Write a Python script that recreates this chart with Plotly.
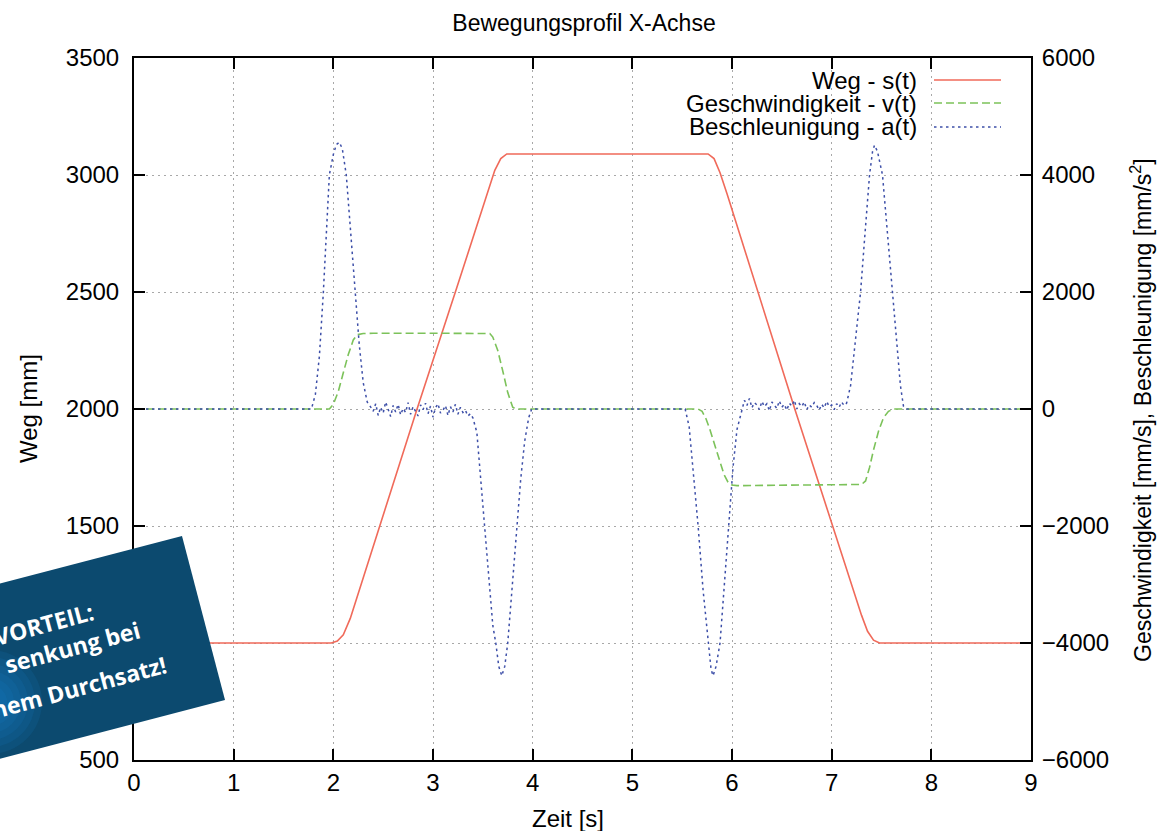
import plotly.graph_objects as go

# ---------------- data ----------------
# Weg s(t) [mm]
t_s = [0.0, 1.98, 2.04, 2.10, 2.17, 2.84, 3.24, 3.56, 3.62, 3.68, 3.74,
       5.76, 5.82, 5.88, 5.95, 6.63, 7.01, 7.30, 7.36, 7.42, 7.48, 9.0]
s_val = [1000, 1000, 1008, 1035, 1105, 2000, 2520, 2940, 3020, 3070, 3090,
         3090, 3070, 3010, 2920, 2000, 1500, 1118, 1050, 1012, 1000, 1000]

# Geschwindigkeit v(t) [mm/s]
t_v = [0.0, 1.96, 2.00, 2.05, 2.10, 2.15, 2.20, 2.24, 2.30, 2.40, 3.00, 3.57,
       3.60, 3.65, 3.70, 3.75, 3.80, 3.83, 5.00, 5.66, 5.70, 5.74, 5.78, 5.83,
       5.88, 5.92, 5.96, 6.00, 6.05, 6.60, 7.30, 7.34, 7.38, 7.42, 7.47, 7.52,
       7.57, 7.62, 9.0]
v_val = [0, 0, 80, 300, 620, 930, 1180, 1270, 1290, 1295, 1295, 1290,
         1230, 1000, 650, 280, 30, 0, 0, 0, -40, -170, -360, -640,
         -920, -1120, -1250, -1300, -1310, -1300, -1290, -1230, -1000, -700, -380, -150,
         -40, 0, 0]

# Beschleunigung a(t) [mm/s^2], segment by segment
t_a_rest1 = [0.0, 0.5, 1.0, 1.5, 1.78]
a_rest1 = [0, 0, 0, 0, 0]

t_a_peak1 = [1.82, 1.86, 1.90, 1.93, 1.96, 2.00, 2.03, 2.06, 2.09, 2.13,
             2.17, 2.22, 2.26, 2.30, 2.34, 2.38]
a_peak1 = [250, 900, 2000, 3000, 4000, 4350, 4520, 4560, 4450, 4000,
           3100, 2000, 1100, 450, 120, 20]

t_a_noise1 = [2.400, 2.425, 2.450, 2.475, 2.500, 2.525, 2.550, 2.575, 2.600, 2.625,
              2.650, 2.675, 2.700, 2.725, 2.750, 2.775, 2.800, 2.825, 2.850, 2.875,
              2.900, 2.925, 2.950, 2.975, 3.000, 3.025, 3.050, 3.075, 3.100, 3.125,
              3.150, 3.175, 3.200, 3.225, 3.250, 3.275, 3.300, 3.325, 3.350, 3.375]
a_noise1 = [-40, 90, -110, 30, -70, 120, -20, -130, 60, -50,
            80, -100, 10, -60, 110, -90, 40, -30, -120, 70,
            -10, 100, -80, 50, -140, 20, 90, -70, -20, 60,
            -110, 40, -50, 80, -90, 30, -60, -20, -120, -80]

t_a_peak2 = [3.40, 3.44, 3.48, 3.52, 3.56, 3.60, 3.63, 3.66, 3.69, 3.72,
             3.75, 3.79, 3.84, 3.88, 3.92, 3.96, 3.99]
a_peak2 = [-150, -400, -1200, -2000, -2900, -3700, -4000, -4400, -4560, -4400,
           -4000, -3100, -2000, -1200, -550, -150, 0]

t_a_rest2 = [4.5, 5.0, 5.53]
a_rest2 = [0, 0, 0]

t_a_peak3 = [5.57, 5.62, 5.66, 5.71, 5.76, 5.79, 5.81, 5.84, 5.88, 5.92,
             5.97, 6.01, 6.05, 6.09, 6.11]
a_peak3 = [-300, -1200, -2000, -3100, -4000, -4450, -4560, -4400, -4000, -3100,
           -2000, -1000, -350, -80, 50]

t_a_noise2 = [6.125, 6.150, 6.175, 6.200, 6.225, 6.250, 6.275, 6.300, 6.325, 6.350,
              6.375, 6.400, 6.425, 6.450, 6.475, 6.500, 6.525, 6.550, 6.575, 6.600,
              6.625, 6.650, 6.675, 6.700, 6.725, 6.750, 6.775, 6.800, 6.825, 6.850,
              6.875, 6.900, 6.925, 6.950, 6.975, 7.000, 7.025, 7.050, 7.075, 7.100,
              7.125]
a_noise2 = [150, 60, 180, 20, 110, 70, -10, 130, 40, 90,
            -30, 120, 60, 10, 140, 30, 80, -20, 100, 50,
            150, 0, 90, 40, 120, -10, 70, 30, 110, 60,
            -20, 80, 20, 130, 40, 70, -10, 90, 30, 120,
            60]

t_a_peak4 = [7.15, 7.19, 7.23, 7.29, 7.33, 7.38, 7.41, 7.43, 7.46, 7.51,
             7.56, 7.61, 7.65, 7.69, 7.72, 7.75]
a_peak4 = [100, 400, 1000, 2000, 2900, 4000, 4400, 4510, 4400, 4000,
           3000, 2000, 1100, 400, 50, 0]

t_a_rest3 = [8.0, 8.5, 9.0]
a_rest3 = [0, 0, 0]

t_a = (t_a_rest1 + t_a_peak1 + t_a_noise1 + t_a_peak2 + t_a_rest2 +
       t_a_peak3 + t_a_noise2 + t_a_peak4 + t_a_rest3)
a_val = (a_rest1 + a_peak1 + a_noise1 + a_peak2 + a_rest2 +
         a_peak3 + a_noise2 + a_peak4 + a_rest3)

# axis ticks
x_ticks = [0, 1, 2, 3, 4, 5, 6, 7, 8, 9]
y_left_ticks = [500, 1000, 1500, 2000, 2500, 3000, 3500]
y_right_ticks = [-6000, -4000, -2000, 0, 2000, 4000, 6000]

legend_labels = ["Weg - s(t)", "Geschwindigkeit - v(t)", "Beschleunigung - a(t)"]

# ---------------- styling ----------------
FONT = "Liberation Sans, Arial, sans-serif"
FS = 24
RED = "#f06a5a"
GREEN = "#7cc25a"
BLUE = "#3d4fa8"
GRID = "#a8a8a8"

W, H = 1163, 831
ML, MT = 134, 58
PW, PH = 897, 702
MR, MB = W - ML - PW, H - MT - PH


def px(xp):
    """page x pixel -> paper fraction"""
    return (xp - ML) / PW


def py(yp):
    """page y pixel -> paper fraction"""
    return (MT + PH - yp) / PH


fig = go.Figure()
fig.add_trace(go.Scatter(x=t_s, y=s_val, mode="lines", name=legend_labels[0],
                         line=dict(color=RED, width=1.6), yaxis="y"))
fig.add_trace(go.Scatter(x=t_v, y=v_val, mode="lines", name=legend_labels[1],
                         line=dict(color=GREEN, width=1.6, dash="8px,4px"), yaxis="y2"))
fig.add_trace(go.Scatter(x=t_a, y=a_val, mode="lines", name=legend_labels[2],
                         line=dict(color=BLUE, width=1.5, dash="2.5px,3.5px"), yaxis="y2"))

axis_common = dict(showline=True, linecolor="black", linewidth=2,
                   ticks="inside", ticklen=11, tickwidth=1.6, tickcolor="black",
                   tickfont=dict(family=FONT, size=FS, color="black"),
                   zeroline=False)

fig.update_layout(
    width=W, height=H,
    margin=dict(l=ML, r=MR, t=MT, b=MB, pad=0),
    paper_bgcolor="white", plot_bgcolor="white",
    showlegend=False,
    font=dict(family=FONT, size=FS, color="black"),
    title=dict(text="Bewegungsprofil X-Achse", x=584 / W, xanchor="center",
               xref="container", y=1 - 23 / H, yanchor="middle", yref="container",
               font=dict(family=FONT, size=23, color="black")),
    xaxis=dict(range=[0, 9], tickvals=x_ticks, mirror="ticks",
               showgrid=True, gridcolor=GRID, gridwidth=1, griddash="2px,4px",
               ticklabelstandoff=0, **axis_common),
    yaxis=dict(range=[500, 3500], tickvals=y_left_ticks,
               showgrid=True, gridcolor=GRID, gridwidth=1, griddash="2px,4px",
               ticklabelstandoff=8, **axis_common),
    yaxis2=dict(range=[-6000, 6000], tickvals=y_right_ticks, overlaying="y",
                side="right", showgrid=False, ticklabelstandoff=4, **axis_common),
)

annotations = [
    dict(text="Zeit [s]", x=px(568), y=py(818), xref="paper", yref="paper",
         showarrow=False, xanchor="center", yanchor="middle",
         font=dict(family=FONT, size=FS)),
    dict(text="Weg [mm]", x=px(28), y=py(409), xref="paper", yref="paper",
         showarrow=False, xanchor="center", yanchor="middle", textangle=-90,
         font=dict(family=FONT, size=FS)),
    dict(text="Geschwindigkeit [mm/s], Beschleunigung [mm/s<sup>2</sup>]",
         x=px(1141), y=py(410), xref="paper", yref="paper",
         showarrow=False, xanchor="center", yanchor="middle", textangle=-90,
         font=dict(family=FONT, size=FS - 1)),
]

# manual gnuplot-style legend (text right-aligned, sample on the right)
leg_y = [80, 103, 127]
leg_style = [dict(color=RED, width=1.6), dict(color=GREEN, width=1.6, dash="8px,4px"),
             dict(color=BLUE, width=1.5, dash="2.5px,3.5px")]
shapes = []
for lab, yy, st in zip(legend_labels, leg_y, leg_style):
    annotations.append(dict(text=lab, x=px(919), y=py(yy), xref="paper", yref="paper",
                            showarrow=False, xanchor="right", yanchor="middle",
                            font=dict(family=FONT, size=FS)))
    shapes.append(dict(type="line", xref="paper", yref="paper",
                       x0=px(934), x1=px(1001), y0=py(yy), y1=py(yy), line=st))

# overlay banner (rotated blue badge at the lower left)
banner = [(182, 536), (225, 700), (-162, 801), (-205, 637)]
path = "M " + " L ".join(f"{px(a):.5f},{py(b):.5f}" for a, b in banner) + " Z"
shapes.append(dict(type="path", path=path, xref="paper", yref="paper",
                   fillcolor="#0c4a6f", line=dict(width=0), layer="above"))
# soft glow at the lower-left of the badge
for r in [52, 45, 38, 31, 24, 17, 10]:
    cx, cy = -10, 702
    shapes.append(dict(type="circle", xref="paper", yref="paper",
                       x0=px(cx - r), x1=px(cx + r), y0=py(cy + r), y1=py(cy - r),
                       fillcolor="#1a86d2", opacity=0.13, line=dict(width=0),
                       layer="above"))

BFONT = "Open Sans, Noto Sans, sans-serif"
badge_lines = [("VORTEIL:", 44, 624), ("senkung bei", 72, 647), ("hem Durchsatz!", 79, 687)]
for txt, bx, by in badge_lines:
    annotations.append(dict(text=f"<b>{txt}</b>", x=px(bx), y=py(by), xref="paper",
                            yref="paper", showarrow=False, xanchor="center",
                            yanchor="middle", textangle=-15,
                            font=dict(family=BFONT, size=23, color="white")))

fig.update_layout(annotations=annotations, shapes=shapes)

# the page itself gets no body margin so the figure sits at the window's top-left
fig.write_html("out.html", config={"displayModeBar": False},
               post_script="document.body.style.margin='0px';document.body.style.padding='0px';")
